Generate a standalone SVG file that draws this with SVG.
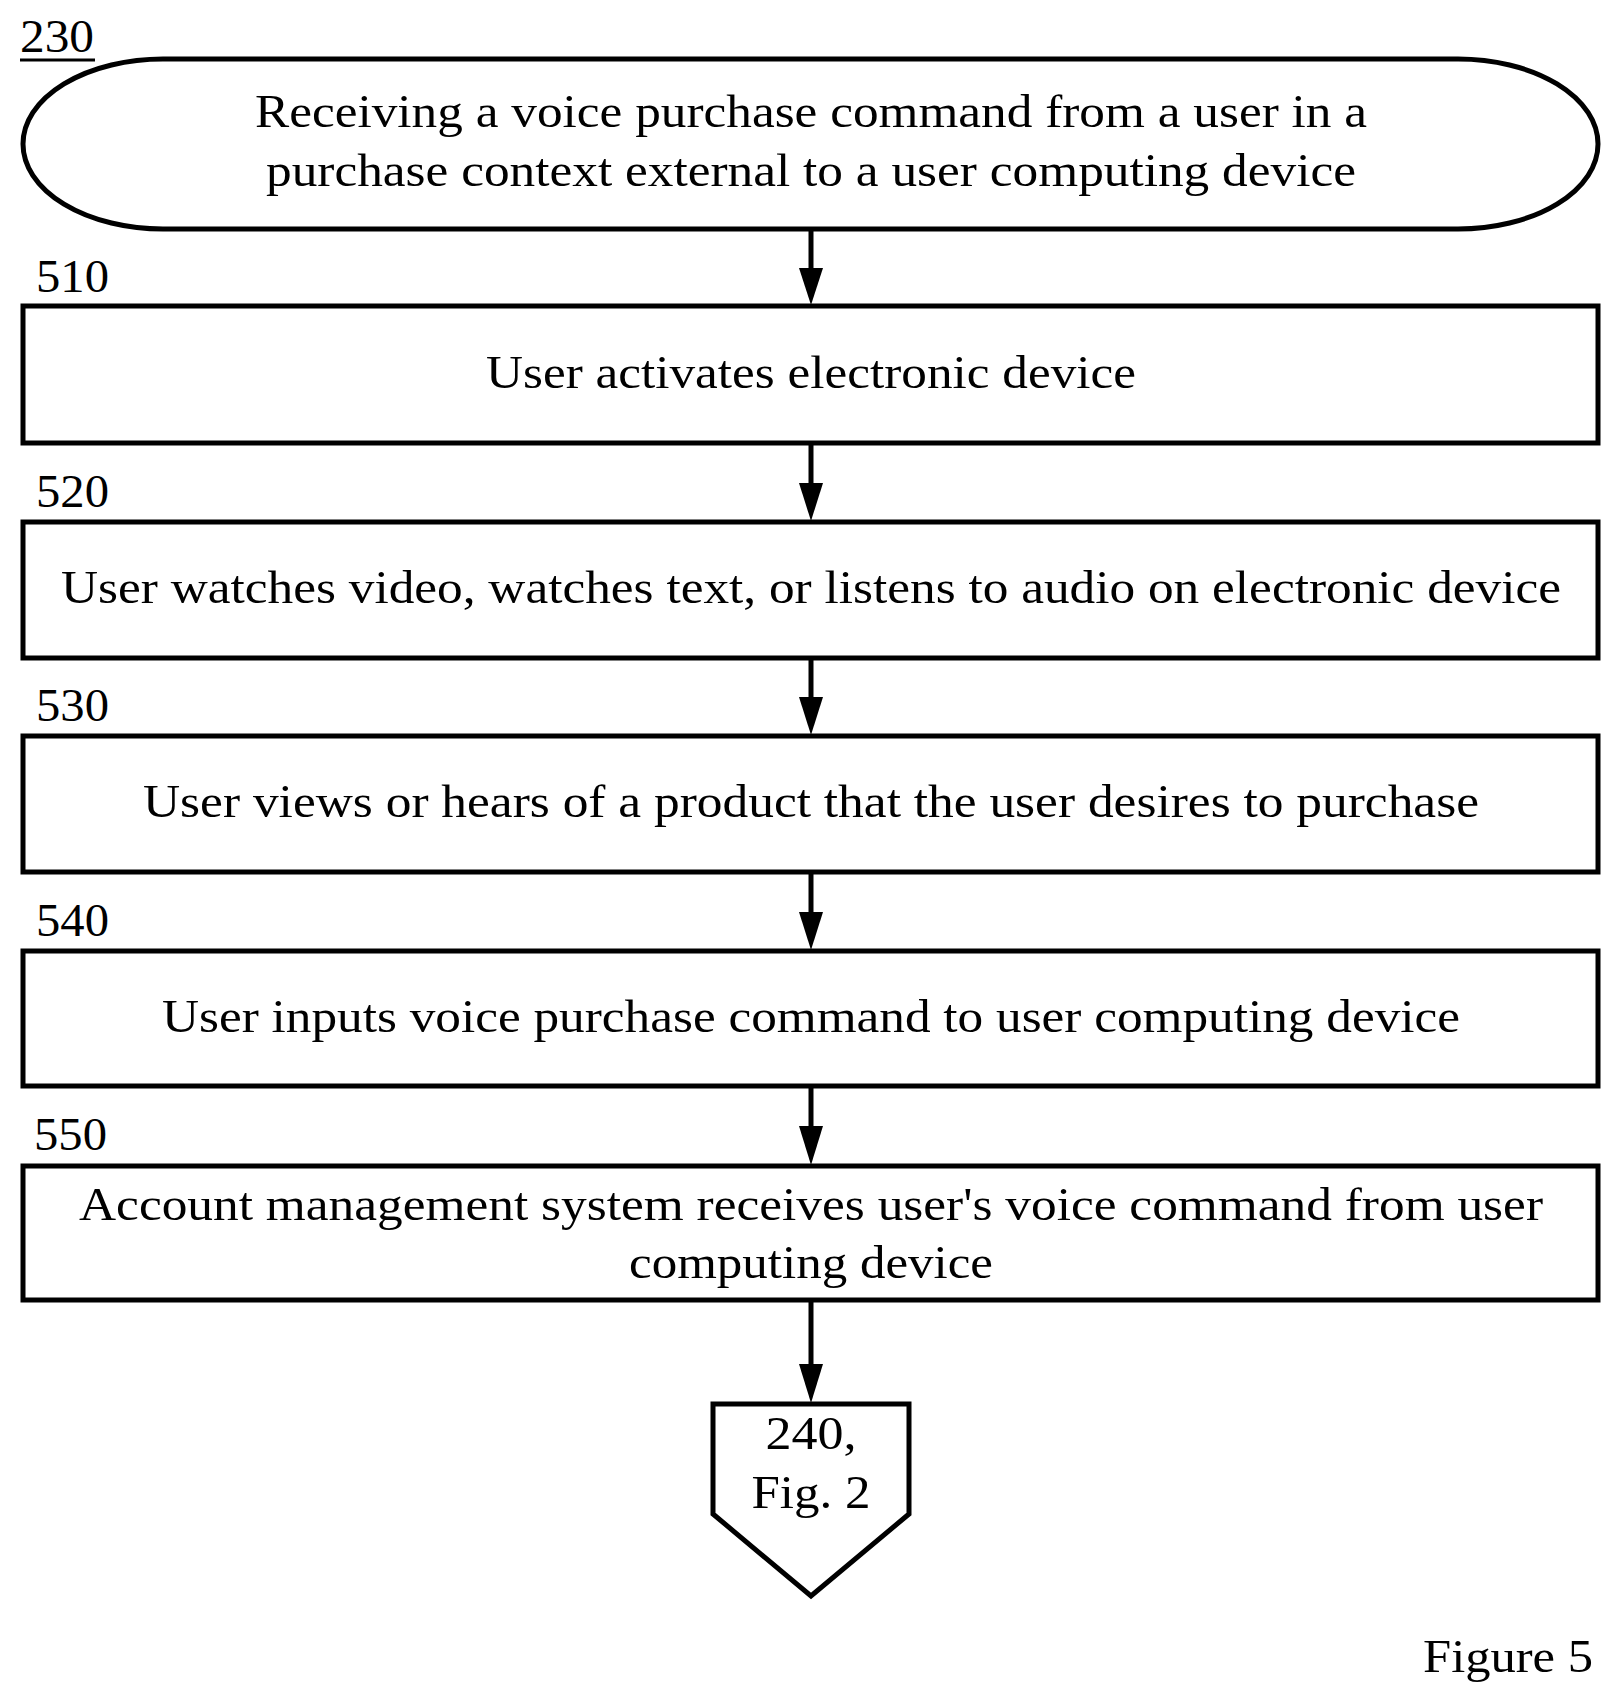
<svg xmlns="http://www.w3.org/2000/svg" width="1622" height="1702" viewBox="0 0 1622 1702">
<style>
text{font-family:"Liberation Serif","Times New Roman",serif;font-size:46px;fill:#000}
.c{text-anchor:middle}
.s{fill:#fff;stroke:#000;stroke-width:5}
.l{stroke:#000;stroke-width:5}
</style>
<rect width="1622" height="1702" fill="#fff"/>
<g id="label230"><text x="20" y="52" textLength="74" lengthAdjust="spacingAndGlyphs">230</text><line x1="20" y1="60" x2="95" y2="60" stroke="#000" stroke-width="3"/></g>
<g id="start"><rect class="s" x="23" y="59" width="1575" height="170" rx="140" ry="85"/>
<text class="c" x="811" y="127" textLength="1112" lengthAdjust="spacingAndGlyphs">Receiving a voice purchase command from a user in a</text>
<text class="c" x="811" y="186" textLength="1090" lengthAdjust="spacingAndGlyphs">purchase context external to a user computing device</text></g>
<g id="n510"><text x="36" y="292" textLength="73" lengthAdjust="spacingAndGlyphs">510</text><rect class="s" x="23" y="306" width="1575" height="137"/><text class="c" x="811" y="388" textLength="650" lengthAdjust="spacingAndGlyphs">User activates electronic device</text></g>
<g id="n520"><text x="36" y="507" textLength="73" lengthAdjust="spacingAndGlyphs">520</text><rect class="s" x="23" y="522" width="1575" height="136"/><text class="c" x="811" y="603" textLength="1500" lengthAdjust="spacingAndGlyphs">User watches video, watches text, or listens to audio on electronic device</text></g>
<g id="n530"><text x="36" y="721" textLength="73" lengthAdjust="spacingAndGlyphs">530</text><rect class="s" x="23" y="736" width="1575" height="136"/><text class="c" x="811" y="817" textLength="1336" lengthAdjust="spacingAndGlyphs">User views or hears of a product that the user desires to purchase</text></g>
<g id="n540"><text x="36" y="936" textLength="73" lengthAdjust="spacingAndGlyphs">540</text><rect class="s" x="23" y="951" width="1575" height="135"/><text class="c" x="811" y="1032" textLength="1298" lengthAdjust="spacingAndGlyphs">User inputs voice purchase command to user computing device</text></g>
<g id="n550"><text x="34" y="1150" textLength="73" lengthAdjust="spacingAndGlyphs">550</text><rect class="s" x="23" y="1166" width="1575" height="134"/>
<text class="c" x="811" y="1220" textLength="1464" lengthAdjust="spacingAndGlyphs">Account management system receives user's voice command from user</text>
<text class="c" x="811" y="1278" textLength="364" lengthAdjust="spacingAndGlyphs">computing device</text></g>
<g id="offpage"><polygon class="s" points="713,1404 909,1404 909,1514 811,1596 713,1514"/>
<text class="c" x="811" y="1449" textLength="91" lengthAdjust="spacingAndGlyphs">240,</text><text class="c" x="811" y="1508" textLength="119" lengthAdjust="spacingAndGlyphs">Fig. 2</text></g>
<g id="connectors">
<line class="l" x1="811" y1="229" x2="811" y2="270"/><polygon points="799,268 823,268 811,305"/>
<line class="l" x1="811" y1="443" x2="811" y2="485"/><polygon points="799,483 823,483 811,521"/>
<line class="l" x1="811" y1="658" x2="811" y2="699"/><polygon points="799,697 823,697 811,735"/>
<line class="l" x1="811" y1="872" x2="811" y2="914"/><polygon points="799,912 823,912 811,950"/>
<line class="l" x1="811" y1="1086" x2="811" y2="1128"/><polygon points="799,1126 823,1126 811,1165"/>
<line class="l" x1="811" y1="1300" x2="811" y2="1366"/><polygon points="799,1364 823,1364 811,1403"/>
</g>
<text x="1423" y="1672" textLength="170" lengthAdjust="spacingAndGlyphs">Figure 5</text>
</svg>
